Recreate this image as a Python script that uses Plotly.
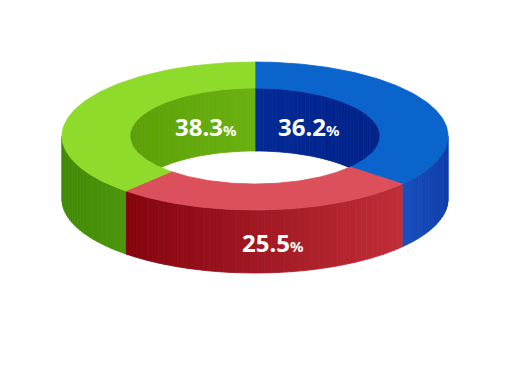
import numpy as np
import plotly.graph_objects as go

# ---- data ----
slice_names = ["Blue", "Red", "Green"]
slice_values = [36.2, 25.5, 38.3]
slice_labels = ["36.2", "25.5", "38.3"]

# ---- style ----
top_colors = ["#0A64CC", "#DC505C", "#8FDB2C"]
side_colors = [((25, 80, 190), (15, 62, 172)),
               ((132, 4, 14), (192, 46, 56)),
               ((66, 138, 6), (76, 150, 12))]
wall_colors = [((4, 42, 150), (0, 34, 136)),
               ((150, 20, 30), (150, 20, 30)),
               ((92, 160, 8), (106, 178, 16))]

W, H = 520, 372
cx, cy = 255, 136
a_out, b_out = 193, 74
a_in, b_in = 125, 48
depth = 63


def ell(th, A, B, dy=0.0):
    r = np.radians(th)
    return cx + A * np.cos(r), cy - B * np.sin(r) + dy


def rgb(c):
    return "rgb(%d,%d,%d)" % tuple(int(round(v)) for v in c)


def mix(c1, c2, t):
    return tuple(c1[i] + (c2[i] - c1[i]) * t for i in range(3))


def intersect(t_lo, t_hi, ranges):
    out = []
    for lo, hi in ranges:
        l, h = max(t_lo, lo), min(t_hi, hi)
        if h - l > 1e-6:
            out.append((l, h))
    return out


# slice angles (clockwise from 12 o'clock)
total = sum(slice_values)
angles = []
start = 90.0
for v in slice_values:
    end = start - v / total * 360.0
    angles.append((end, start))
    start = end

fig = go.Figure()


def poly(xs, ys, color):
    fig.add_trace(go.Scatter(x=list(xs) + [xs[0]], y=list(ys) + [ys[0]], mode="lines",
                             fill="toself", fillcolor=color,
                             line=dict(color=color, width=0.8),
                             hoverinfo="skip", showlegend=False))


def strips(lo, hi, A, B, c_pair, xmin, xmax):
    n = max(2, int((hi - lo) / 2.0))
    ts = np.linspace(lo, hi, n + 1)
    for k in range(n):
        t0, t1 = ts[k], ts[k + 1]
        x0, y0 = ell(t0, A, B)
        x1, y1 = ell(t1, A, B)
        xm = (x0 + x1) / 2
        f = 0 if xmax == xmin else (xm - xmin) / (xmax - xmin)
        col = rgb(mix(c_pair[0], c_pair[1], min(max(f, 0), 1)))
        poly([x0, x1, x1, x0], [y0, y1, y1 + depth, y0 + depth], col)


# 1) inner back walls (visible through hole)
for i, (lo, hi) in enumerate(angles):
    for l, h in intersect(lo, hi, [(0, 180), (-360, -180)]):
        xs = [ell(t, a_in, b_in)[0] for t in np.linspace(l, h, 40)]
        strips(l, h, a_in, b_in, wall_colors[i], min(xs), max(xs))

# 2) outer front sides
for i, (lo, hi) in enumerate(angles):
    for l, h in intersect(lo, hi, [(-180, 0), (-540, -360)]):
        xs = [ell(t, a_out, b_out)[0] for t in np.linspace(l, h, 40)]
        strips(l, h, a_out, b_out, side_colors[i], min(xs), max(xs))

# 3) top surfaces
for i, (lo, hi) in enumerate(angles):
    ts = np.linspace(lo, hi, 120)
    ox, oy = ell(ts, a_out, b_out)
    ix, iy = ell(ts[::-1], a_in, b_in)
    poly(np.concatenate([ox, ix]), np.concatenate([oy, iy]), top_colors[i])

# 4) labels
for i, (lo, hi) in enumerate(angles):
    mid = (lo + hi) / 2
    if np.sin(np.radians(mid)) > 0:
        x = cx + 0.45 * a_in * np.cos(np.radians(mid)) + 3
        y = cy - 10
    else:
        x, y = ell(mid, a_out, b_out, depth / 2)
        x += 5
        y += 1
    fig.add_annotation(x=x, y=y, xref="x", yref="y", showarrow=False,
                       text="<b>%s</b><span style='font-size:15px'><b>%%</b></span>" % slice_labels[i],
                       font=dict(family="Noto Sans", size=24, color="white"),
                       xanchor="center", yanchor="middle")

fig.update_layout(width=W, height=H, margin=dict(l=0, r=0, t=0, b=0),
                  paper_bgcolor="white", plot_bgcolor="white",
                  xaxis=dict(range=[0, W], visible=False, fixedrange=True),
                  yaxis=dict(range=[H, 0], visible=False, fixedrange=True),
                  showlegend=False)
fig.write_html("out.html")
